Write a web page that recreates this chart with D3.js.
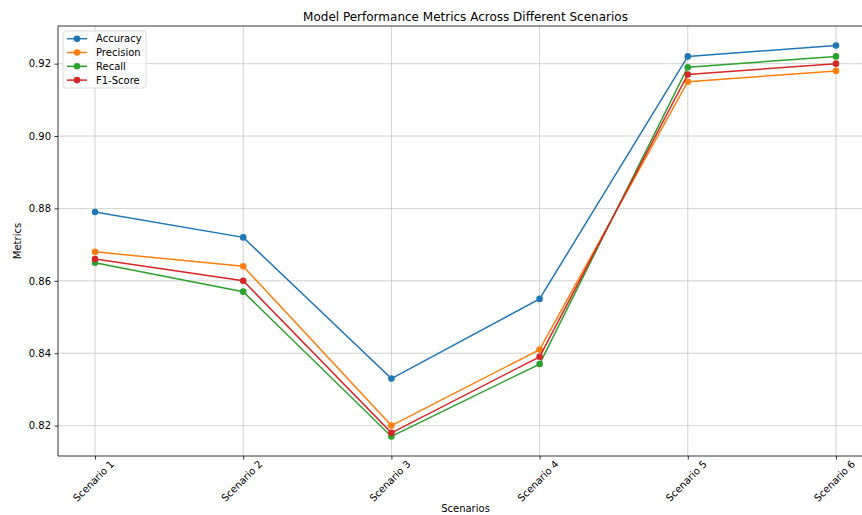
<!DOCTYPE html>
<html>
<head>
<meta charset="utf-8">
<script src="https://cdn.jsdelivr.net/npm/d3@7"></script>
<style>
  html, body { margin: 0; padding: 0; background: #fff; }
  svg { display: block; }
  svg text { font-family: "DejaVu Sans", sans-serif; }
</style>
</head>
<body>
<svg id="chart" width="862" height="515"></svg>
<script>
// Scenario labels and metric values
const categories = ["Scenario 1", "Scenario 2", "Scenario 3", "Scenario 4", "Scenario 5", "Scenario 6"];
const accuracy  = [0.879, 0.872, 0.833, 0.855, 0.922, 0.925];
const precision = [0.868, 0.864, 0.820, 0.841, 0.915, 0.918];
const recall    = [0.865, 0.857, 0.817, 0.837, 0.919, 0.922];
const f1Score   = [0.866, 0.860, 0.818, 0.839, 0.917, 0.920];
const yTicks = [0.82, 0.84, 0.86, 0.88, 0.90, 0.92];
const seriesNames = ["Accuracy", "Precision", "Recall", "F1-Score"];
const seriesColors = ["#1f77b4", "#ff7f0e", "#2ca02c", "#d62728"];

const series = [accuracy, precision, recall, f1Score].map((values, i) => ({
  name: seriesNames[i], color: seriesColors[i], values
}));

const FONT = "DejaVu Sans, sans-serif";
const svg = d3.select("#chart");
const plot = { left: 58, right: 873, top: 26, bottom: 456 };

// x: categorical positions with 5% padding on each side
const xIdx = d3.scaleLinear()
  .domain([-0.25, categories.length - 1 + 0.25])
  .range([plot.left, plot.right]);
const x = c => xIdx(categories.indexOf(c));

// y: value range padded by 5% of data span
const allVals = series.flatMap(s => s.values);
const lo = d3.min(allVals), hi = d3.max(allVals), pad = (hi - lo) * 0.05;
const y = d3.scaleLinear().domain([lo - pad, hi + pad]).range([plot.bottom, plot.top]);

// grid
const grid = svg.append("g");
grid.selectAll("line.gx").data(categories).join("line")
  .attr("x1", d => x(d)).attr("x2", d => x(d))
  .attr("y1", plot.top).attr("y2", plot.bottom)
  .attr("stroke", "#b0b0b0").attr("stroke-width", 0.8).attr("opacity", 0.7);
grid.selectAll("line.gy").data(yTicks).join("line")
  .attr("x1", plot.left).attr("x2", plot.right)
  .attr("y1", d => y(d)).attr("y2", d => y(d))
  .attr("stroke", "#b0b0b0").attr("stroke-width", 0.8).attr("opacity", 0.7);

// axes
const xAxis = d3.axisBottom(xIdx)
  .tickValues(d3.range(categories.length))
  .tickFormat(i => categories[i])
  .tickSize(3.5).tickPadding(3);
const gx = svg.append("g").attr("transform", `translate(0,${plot.bottom})`).call(xAxis)
  .attr("font-family", FONT);
gx.select(".domain").remove();
gx.selectAll(".tick line").attr("stroke", "#000").attr("stroke-width", 0.8);
gx.selectAll(".tick text")
  .attr("font-size", 10).attr("fill", "#000")
  .attr("text-anchor", "middle")
  .attr("y", 0).attr("dy", "0.35em")
  .attr("transform", "translate(-2,25) rotate(-45)");

const yAxis = d3.axisLeft(y).tickValues(yTicks).tickFormat(d3.format(".2f")).tickSize(3.5).tickPadding(3.5);
const gy = svg.append("g").attr("transform", `translate(${plot.left},0)`).call(yAxis)
  .attr("font-family", FONT);
gy.select(".domain").remove();
gy.selectAll(".tick line").attr("stroke", "#000").attr("stroke-width", 0.8);
gy.selectAll(".tick text").attr("font-size", 10).attr("fill", "#000");

// spines
const sp = svg.append("g").attr("stroke", "#000").attr("stroke-width", 0.8).attr("fill", "none");
sp.append("line").attr("x1", plot.left).attr("x2", plot.left).attr("y1", plot.top).attr("y2", plot.bottom);
sp.append("line").attr("x1", plot.left).attr("x2", plot.right).attr("y1", plot.bottom).attr("y2", plot.bottom);
sp.append("line").attr("x1", plot.left).attr("x2", plot.right).attr("y1", plot.top).attr("y2", plot.top);
sp.append("line").attr("x1", plot.right).attr("x2", plot.right).attr("y1", plot.top).attr("y2", plot.bottom);

// lines + markers
const line = d3.line().x((d, i) => x(categories[i])).y(d => y(d));
const gs = svg.append("g").selectAll("g").data(series).join("g");
gs.append("path")
  .attr("d", d => line(d.values))
  .attr("fill", "none").attr("stroke", d => d.color).attr("stroke-width", 1.5);
gs.each(function (s) {
  d3.select(this).selectAll("circle").data(s.values).join("circle")
    .attr("cx", (d, i) => x(categories[i])).attr("cy", d => y(d))
    .attr("r", 3.3).attr("fill", s.color);
});

// title and axis labels
svg.append("text").attr("x", (plot.left + plot.right) / 2).attr("y", 21)
  .attr("text-anchor", "middle").attr("font-size", 12).attr("fill", "#000")
  .text("Model Performance Metrics Across Different Scenarios");
svg.append("text").attr("x", (plot.left + plot.right) / 2).attr("y", 512)
  .attr("text-anchor", "middle").attr("font-size", 10).attr("fill", "#000")
  .text("Scenarios");
svg.append("text").attr("transform", `translate(21,${(plot.top + plot.bottom) / 2}) rotate(-90)`)
  .attr("text-anchor", "middle").attr("font-size", 10).attr("fill", "#000")
  .text("Metrics");

// legend
const lg = svg.append("g").attr("transform", "translate(63,31)");
lg.append("rect").attr("width", 83).attr("height", 57).attr("rx", 2)
  .attr("fill", "#fff").attr("fill-opacity", 0.8).attr("stroke", "#d0d0d0").attr("stroke-width", 0.8);
const items = lg.selectAll("g.item").data(series).join("g")
  .attr("transform", (d, i) => `translate(0,${7.7 + i * 13.8})`);
items.append("line").attr("x1", 4).attr("x2", 24)
  .attr("stroke", d => d.color).attr("stroke-width", 1.5);
items.append("circle").attr("cx", 14).attr("r", 3.3).attr("fill", d => d.color);
items.append("text").attr("x", 33).attr("dy", "0.35em")
  .attr("font-size", 10).attr("fill", "#000").text(d => d.name);
</script>
</body>
</html>
